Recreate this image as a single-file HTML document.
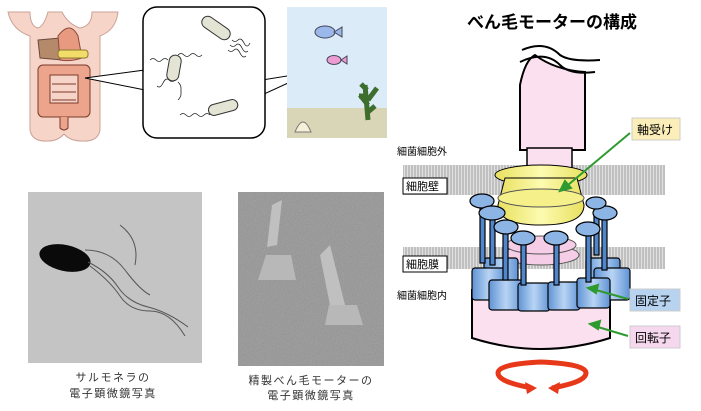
<!DOCTYPE html>
<html><head><meta charset="utf-8"><style>
html,body{margin:0;padding:0;background:#fff;}
svg{display:block;font-family:"Liberation Sans","Noto Sans CJK JP",sans-serif;}
</style></head><body>
<svg width="701" height="411" viewBox="0 0 701 411" xmlns="http://www.w3.org/2000/svg">
<defs>
<pattern id="mem" width="3" height="6" patternUnits="userSpaceOnUse">
<rect width="3" height="6" fill="#e0e0e0"/><line x1="1" y1="0" x2="1" y2="6" stroke="#a0a0a0" stroke-width="1"/></pattern>
<linearGradient id="blu" x1="0" x2="1"><stop offset="0" stop-color="#5f93d4"/><stop offset="0.5" stop-color="#b9d4f4"/><stop offset="1" stop-color="#5f93d4"/></linearGradient>
<linearGradient id="yel" x1="0" x2="1"><stop offset="0" stop-color="#e8e060"/><stop offset="0.5" stop-color="#fdfbb0"/><stop offset="1" stop-color="#e8e060"/></linearGradient>
<filter id="noise" x="0" y="0" width="100%" height="100%"><feTurbulence type="fractalNoise" baseFrequency="0.9" numOctaves="2" result="n"/><feColorMatrix type="saturate" values="0" in="n" result="g"/><feComponentTransfer in="g"><feFuncA type="linear" slope="0.5"/></feComponentTransfer><feComposite in2="SourceGraphic" operator="in"/><feBlend in2="SourceGraphic" mode="multiply"/></filter>
</defs>
<!-- torso -->
<path d="M10,12 L38,12 Q40,28 32,34 L32,120 Q30,138 40,140 Q52,142 63,134 Q76,142 90,140 Q100,138 98,120 L98,34 Q90,28 92,12 L118,12 Q116,30 100,36 L100,36 Z" fill="none"/>
<path d="M8,12 Q12,30 30,36 L30,130 Q32,142 48,141 Q58,141 64,134 Q70,141 82,141 Q98,142 100,130 L100,36 Q116,30 118,12 L92,12 Q92,26 80,28 Q68,24 62,12 L48,12 Q44,26 38,28 Q30,26 30,12Z" fill="#f7d4c8" stroke="#c9a397"/>
<path d="M38,40 L60,38 L62,60 L40,58Z" fill="#b48a6a" stroke="#6b4a3a"/>
<path d="M58,36 Q70,20 78,36 L82,58 Q70,62 60,60Z" fill="#e89a80" stroke="#8a4a3a"/>
<rect x="58" y="50" width="30" height="8" rx="3" fill="#f2dc6a" stroke="#8a7a2a"/>
<rect x="38" y="65" width="52" height="52" rx="5" fill="#eda48c" stroke="#7a3a2a"/>
<rect x="50" y="75" width="28" height="28" fill="#f7d4c8" stroke="#7a3a2a"/>
<path d="M52,84 H76 M52,92 H76 M52,100 H76" stroke="#7a3a2a"/>
<path d="M60,117 L60,128 Q64,132 68,128 L68,117" fill="#eda48c" stroke="#7a3a2a"/>
<!-- callout -->
<path d="M85,78 L145,70 L145,90Z" fill="#fff" stroke="#000"/>
<path d="M312,72 L262,80 L262,95Z" fill="#fff" stroke="#000"/>
<rect x="143" y="7" width="122" height="131" rx="14" fill="#fff" stroke="#000" stroke-width="1.5"/>
<rect x="143.8" y="72" width="3" height="17" fill="#fff"/><rect x="261" y="81" width="3" height="13" fill="#fff"/>
<g fill="#e4e4d4" stroke="#333"><rect x="200" y="22" width="32" height="12" rx="6" transform="rotate(35 216 28)"/><rect x="168" y="55" width="12" height="26" rx="6" transform="rotate(10 174 68)"/><rect x="208" y="102" width="30" height="11" rx="5.5" transform="rotate(-15 223 107)"/></g>
<g fill="none" stroke="#222" stroke-width="0.8"><path d="M150,60 q3,-3 6,0 t6,0 t6,0"/><path d="M178,55 q3,-3 6,0 t6,0 t6,0 t6,0"/><path d="M175,80 q-3,3 -6,0 t-6,3 t-6,3"/><path d="M178,82 q3,3 3,6 t0,6 t-3,6"/><path d="M232,40 q3,3 6,0 t6,3 t6,0 M230,45 q3,3 6,0 t6,3 t6,3 M228,50 q3,3 6,0 t6,3 t6,3"/><path d="M210,115 q-3,-3 -6,0 t-6,0 t-6,0 t-6,0 t-6,0"/></g>
<!-- aquarium -->
<rect x="287" y="7" width="100" height="103" fill="#dcebf8"/>
<rect x="287" y="108" width="100" height="30" fill="#d8d6b6"/>
<ellipse cx="325" cy="32" rx="10" ry="6" fill="#9ab8ea" stroke="#445"/><path d="M334,32 l8,-5 v10z" fill="#9ab8ea" stroke="#445"/>
<ellipse cx="334" cy="60" rx="7" ry="4.5" fill="#ee9cd4" stroke="#445"/><path d="M341,60 l6,-4 v8z" fill="#ee9cd4" stroke="#445"/>
<path d="M368,120 L365,85 M368,105 l-8,-10 M368,100 l9,-12 M367,90 l-6,-6 M366,96 l-7,0 M368,112 l7,-6" stroke="#3d6e2e" stroke-width="5"/>
<path d="M295,132 q8,-20 16,0z" fill="#f5f0d8" stroke="#777"/>
<!-- photos -->
<rect x="28" y="192" width="174" height="171" fill="#c4c4c4"/>
<ellipse cx="65" cy="258" rx="26" ry="13" fill="#0a0a0a" transform="rotate(12 65 258)"/>
<g fill="none" stroke="#555" stroke-width="1"><path d="M88,262 q20,10 30,25 t30,20 t40,20"/><path d="M90,266 q20,15 30,30 t30,15 t35,25"/><path d="M85,250 q25,0 40,20 t25,25"/><path d="M120,225 q20,15 15,40"/></g>
<rect x="238" y="192" width="146" height="174" fill="#a4a4a4" filter="url(#noise)"/>
<path d="M272,205 l10,-5 l-5,45 l-10,2z" fill="#c0c0c0"/><path d="M258,280 h38 l-5,-25 h-25z" fill="#b8b8b8"/>
<path d="M320,255 l10,-10 l15,60 h-15z" fill="#c0c0c0"/><path d="M325,325 h38 l-6,-20 h-28z" fill="#b8b8b8"/>
<g font-size="11" fill="#333" text-anchor="middle" letter-spacing="1.5"><text x="113" y="381">サルモネラの</text><text x="113" y="397">電子顕微鏡写真</text><text x="311" y="384">精製べん毛モーターの</text><text x="311" y="399">電子顕微鏡写真</text></g>
<!-- title -->
<text x="552" y="28" font-size="17" font-weight="bold" text-anchor="middle">べん毛モーターの構成</text>
<!-- membranes -->
<rect x="403" y="165" width="262" height="30" fill="url(#mem)"/>
<rect x="403" y="247" width="262" height="22" fill="url(#mem)"/>
<g font-size="10" fill="#000"><text x="397" y="155">細菌細胞外</text><text x="397" y="299">細菌細胞内</text></g>
<rect x="403" y="178" width="44" height="16" fill="#fff" stroke="#000"/><text x="406" y="190" font-size="11">細胞壁</text>
<rect x="403" y="256" width="44" height="16" fill="#fff" stroke="#000"/><text x="406" y="268" font-size="11">細胞膜</text>
<!-- hook -->
<path d="M520,150 L520,85 Q525,60 535,55 Q555,70 585,72 L585,150Z" fill="#fbe0f0" stroke="#000" stroke-width="2"/>
<path d="M520,62 Q545,50 560,65 Q570,75 595,72 M522,50 Q545,40 560,55 Q570,62 600,60" fill="none" stroke="#000" stroke-width="2"/>
<rect x="527" y="148" width="45" height="20" fill="#fbe0f0" stroke="#000" stroke-width="1.5"/>
<!-- rotor -->
<path d="M472,290 L472,338 Q541,360 610,338 L610,290Z" fill="#fbe0f0" stroke="#000" stroke-width="2"/>
<ellipse cx="541" cy="255" rx="38" ry="10" fill="#f6cde6" stroke="#555"/>
<ellipse cx="541" cy="245" rx="35" ry="9" fill="#f6cde6" stroke="#555"/>
<!-- bearing -->
<ellipse cx="541" cy="175" rx="46" ry="10" fill="url(#yel)" stroke="#000"/>
<path d="M505,178 L498,205 Q498,225 541,225 Q584,225 584,205 L577,178Z" fill="url(#yel)" stroke="#000"/>
<ellipse cx="541" cy="198" rx="43" ry="9" fill="#f5f08a" stroke="#555"/>
<!-- stators -->
<g stroke="#000" stroke-width="1.2">
<g fill="url(#blu)">
<rect x="484" y="258" width="34" height="30" rx="3"/><rect x="586" y="258" width="34" height="30" rx="3"/>
<rect x="472" y="268" width="34" height="32" rx="3"/><rect x="594" y="268" width="36" height="32" rx="3"/>
<rect x="489" y="280" width="34" height="30" rx="3"/><rect x="518" y="283" width="32" height="28" rx="3"/><rect x="548" y="282" width="32" height="28" rx="3"/><rect x="577" y="278" width="33" height="30" rx="3"/>
</g>
<g fill="#4f86cc"><rect x="480" y="205" width="5" height="58"/><rect x="490" y="215" width="5" height="50"/><rect x="503" y="230" width="5" height="50"/><rect x="521" y="240" width="5" height="45"/><rect x="554" y="240" width="5" height="45"/><rect x="586" y="232" width="5" height="50"/><rect x="602" y="215" width="5" height="55"/><rect x="594" y="205" width="5" height="50"/></g>
<g fill="#8cb5e6"><ellipse cx="482" cy="201" rx="12" ry="7"/><ellipse cx="492" cy="213" rx="13" ry="7"/><ellipse cx="506" cy="227" rx="12" ry="7"/><ellipse cx="523" cy="238" rx="12" ry="7"/><ellipse cx="556" cy="238" rx="12" ry="7"/><ellipse cx="588" cy="229" rx="12" ry="7"/><ellipse cx="605" cy="213" rx="12" ry="7"/><ellipse cx="596" cy="203" rx="10" ry="6"/></g>
</g>
<!-- labels -->
<rect x="632" y="118" width="48" height="22" fill="#fbeeb8" stroke="#ccc"/><text x="637" y="134" font-size="12">軸受け</text>
<rect x="630" y="289" width="50" height="22" fill="#b7d3f0" stroke="#ccc"/><text x="635" y="305" font-size="12">固定子</text>
<rect x="630" y="326" width="50" height="22" fill="#f6d8ee" stroke="#ccc"/><text x="635" y="342" font-size="12">回転子</text>
<g stroke="#2f9a2f" stroke-width="2" fill="#2f9a2f">
<line x1="630" y1="133" x2="568" y2="185"/><path d="M560,191 l5,-10 l6,7z"/>
<line x1="628" y1="299" x2="596" y2="290"/><path d="M588,288 l10,-3 l-2,8z"/>
<line x1="628" y1="336" x2="598" y2="327"/><path d="M590,324 l10,-3 l-2,8z"/>
</g>
<!-- rotation arrow -->
<path d="M532,388 Q498,382 498,373 Q498,364 541,362 Q586,364 586,373 Q586,382 552,388" fill="none" stroke="#e8381a" stroke-width="5"/>
<path d="M525,382 l12,6 l-10,6z M560,382 l-12,6 l10,6z" fill="#e8381a"/>
</svg>
</body></html>
